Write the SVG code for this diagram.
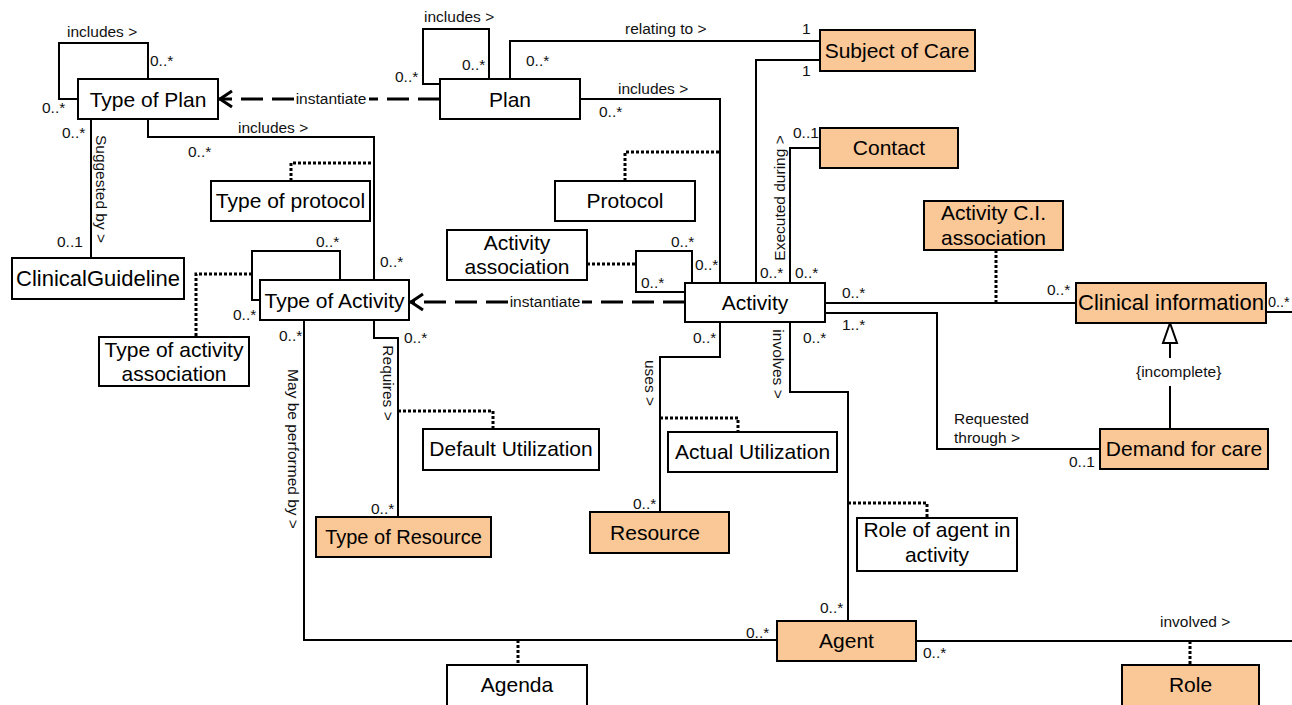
<svg xmlns="http://www.w3.org/2000/svg" width="1292" height="705" viewBox="0 0 1292 705">
<style>
.n rect{fill:#fff;stroke:#000;stroke-width:2}
.o rect{fill:#FAC796}
.t{font-family:"Liberation Sans",Arial,sans-serif;font-size:21px;text-anchor:middle;fill:#000}
.l{font-family:"Liberation Sans",Arial,sans-serif;font-size:15.5px;fill:#111}
.c{fill:none;stroke:#000;stroke-width:2}
.d{fill:none;stroke:#000;stroke-width:3;stroke-dasharray:3 2}
.ds{fill:none;stroke:#000;stroke-width:3;stroke-dasharray:22 9}
</style>
<defs>
<marker id="open" viewBox="-16 -11 18 22" markerWidth="18" markerHeight="22" refX="0" refY="0" orient="auto" markerUnits="userSpaceOnUse">
<path d="M-13,-8 L-1,0 L-13,8" fill="none" stroke="#000" stroke-width="3" stroke-dasharray="none"/>
</marker>
</defs>
<rect width="1292" height="705" fill="#fff"/>
<g id="connectors">
<path class="c" d="M78,99 H59 V43 H148 V79"/>
<path class="c" d="M91,119 V258"/>
<path class="c" d="M148,119 V137 H374 V280"/>
<path class="c" d="M440,84 H423 V29 H489 V79"/>
<path class="c" d="M510,79 V41 H820"/>
<path class="c" d="M580,99 H720 V283"/>
<path class="c" d="M820,60 H756 V283"/>
<path class="c" d="M820,148 H790 V283"/>
<path class="c" d="M260,300 H252 V251 H340 V280"/>
<path class="c" d="M685,292 H636 V251 H692 V283"/>
<path class="c" d="M825,303 H1076"/>
<path class="c" d="M825,313 H937 V449 H1100"/>
<path class="c" d="M720,322 V357 H660 V512"/>
<path class="c" d="M790,322 V392 H848 V621"/>
<path class="c" d="M374,320 V338 H398 V517"/>
<path class="c" d="M304,320 V640 H777"/>
<path class="c" d="M916,641 H1292"/>
<path class="c" d="M1266,312 H1292"/>
<path class="c" d="M1170,429 V386 M1170,358 V343"/>
<polygon points="1170,323 1163,343 1177,343" fill="#fff" stroke="#000" stroke-width="2"/>
<path class="d" d="M291,181 V163 H374"/>
<path class="d" d="M625,181 V152 H720"/>
<path class="d" d="M252,274 H196 V337"/>
<path class="d" d="M587,264 H636"/>
<path class="d" d="M996,250 V303"/>
<path class="d" d="M398,411 H493 V429"/>
<path class="d" d="M660,418 H738 V432"/>
<path class="d" d="M848,503 H927 V518"/>
<path class="d" d="M518,640 V665"/>
<path class="d" d="M1190,641 V665"/>
<path class="ds" d="M440,99 H369"/>
<path class="ds" d="M294,99 H219" marker-end="url(#open)"/>
<path class="ds" d="M685,302 H582"/>
<path class="ds" d="M508,302 H410" marker-end="url(#open)"/>
<text class="l" x="331" y="104" text-anchor="middle">instantiate</text>
<text class="l" x="545" y="307" text-anchor="middle">instantiate</text>
<text class="l" x="67" y="37">includes &gt;</text>
<text class="l" x="150" y="66">0..*</text>
<text class="l" x="42" y="113">0..*</text>
<text class="l" x="62" y="138">0..*</text>
<text class="l" x="238" y="133">includes &gt;</text>
<text class="l" x="188" y="157">0..*</text>
<text class="l" x="424" y="22">includes &gt;</text>
<text class="l" x="395" y="82">0..*</text>
<text class="l" x="462" y="70">0..*</text>
<text class="l" x="526" y="66">0..*</text>
<text class="l" x="625" y="34">relating to &gt;</text>
<text class="l" x="802" y="34">1</text>
<text class="l" x="802" y="76">1</text>
<text class="l" x="618" y="94">includes &gt;</text>
<text class="l" x="599" y="117">0..*</text>
<text class="l" x="793" y="138">0..1</text>
<text class="l" x="57" y="247">0..1</text>
<text class="l" x="316" y="247">0..*</text>
<text class="l" x="380" y="267">0..*</text>
<text class="l" x="233" y="320">0..*</text>
<text class="l" x="279" y="341">0..*</text>
<text class="l" x="404" y="343">0..*</text>
<text class="l" x="671" y="247">0..*</text>
<text class="l" x="695" y="270">0..*</text>
<text class="l" x="641" y="288">0..*</text>
<text class="l" x="760" y="278">0..*</text>
<text class="l" x="795" y="278">0..*</text>
<text class="l" x="842" y="298">0..*</text>
<text class="l" x="842" y="330">1..*</text>
<text class="l" x="693" y="343">0..*</text>
<text class="l" x="803" y="343">0..*</text>
<text class="l" x="1047" y="295">0..*</text>
<text class="l" x="1268" y="307" style="font-size:14.5px">0..*</text>
<text class="l" x="1136" y="377">{incomplete}</text>
<text class="l" x="954" y="424">Requested</text>
<text class="l" x="954" y="443">through &gt;</text>
<text class="l" x="1069" y="467">0..1</text>
<text class="l" x="371" y="514">0..*</text>
<text class="l" x="633" y="509">0..*</text>
<text class="l" x="746" y="638">0..*</text>
<text class="l" x="820" y="613">0..*</text>
<text class="l" x="923" y="658">0..*</text>
<text class="l" x="1160" y="627">involved &gt;</text>
<text class="l" transform="translate(101,189) rotate(90)" y="5" text-anchor="middle">Suggested by &gt;</text>
<text class="l" transform="translate(293,449) rotate(90)" y="5" text-anchor="middle">May be performed by &gt;</text>
<text class="l" transform="translate(388,383) rotate(90)" y="5" text-anchor="middle">Requires &gt;</text>
<text class="l" transform="translate(650,383) rotate(90)" y="5" text-anchor="middle">uses &gt;</text>
<text class="l" transform="translate(778,364) rotate(90)" y="5" text-anchor="middle">involves &gt;</text>
<text class="l" transform="translate(780,198) rotate(-90)" y="5" text-anchor="middle">Executed during &gt;</text>
</g>
<g id="type-of-plan" class="n"><rect x="78" y="79" width="140" height="40"/><text class="t" x="148" y="106.5">Type of Plan</text></g>
<g id="plan" class="n"><rect x="440" y="79" width="140" height="40"/><text class="t" x="510" y="106.5">Plan</text></g>
<g id="subject-of-care" class="n o"><rect x="820" y="30" width="155" height="41"/><text class="t" x="897" y="58">Subject of Care</text></g>
<g id="contact" class="n o"><rect x="820" y="128" width="138" height="40"/><text class="t" x="889" y="155">Contact</text></g>
<g id="type-of-protocol" class="n"><rect x="211" y="181" width="159" height="40"/><text class="t" x="290.5" y="208">Type of protocol</text></g>
<g id="protocol" class="n"><rect x="555" y="181" width="140" height="40"/><text class="t" x="625" y="208">Protocol</text></g>
<g id="clinical-guideline" class="n"><rect x="12" y="258" width="172" height="41"/><text class="t" x="98" y="286" style="font-size:22px">ClinicalGuideline</text></g>
<g id="type-of-activity" class="n"><rect x="260" y="280" width="149" height="40"/><text class="t" x="334.5" y="307.5">Type of Activity</text></g>
<g id="activity-association" class="n"><rect x="447" y="230" width="140" height="50"/><text class="t" x="517" y="250">Activity</text><text class="t" x="517" y="274">association</text></g>
<g id="activity" class="n"><rect x="685" y="283" width="140" height="39"/><text class="t" x="755" y="310">Activity</text></g>
<g id="activity-ci-association" class="n o"><rect x="924" y="201" width="139" height="49"/><text class="t" x="993.5" y="220">Activity C.I.</text><text class="t" x="993.5" y="245">association</text></g>
<g id="clinical-information" class="n o"><rect x="1076" y="283" width="190" height="40"/><text class="t" x="1171" y="310" style="font-size:22px">Clinical information</text></g>
<g id="type-of-activity-association" class="n"><rect x="99" y="337" width="150" height="49"/><text class="t" x="174" y="357">Type of activity</text><text class="t" x="174" y="381">association</text></g>
<g id="default-utilization" class="n"><rect x="423" y="429" width="176" height="41"/><text class="t" x="511" y="456">Default Utilization</text></g>
<g id="actual-utilization" class="n"><rect x="668" y="432" width="169" height="40"/><text class="t" x="752.5" y="459">Actual Utilization</text></g>
<g id="demand-for-care" class="n o"><rect x="1100" y="429" width="168" height="40"/><text class="t" x="1184" y="456">Demand for care</text></g>
<g id="type-of-resource" class="n o"><rect x="316" y="517" width="175" height="40"/><text class="t" x="403.5" y="544" style="font-size:20px">Type of Resource</text></g>
<g id="resource" class="n o"><rect x="590" y="512" width="139" height="41"/><text class="t" x="655" y="540">Resource</text></g>
<g id="role-of-agent-in-activity" class="n"><rect x="857" y="518" width="160" height="53"/><text class="t" x="937" y="537">Role of agent in</text><text class="t" x="937" y="562">activity</text></g>
<g id="agent" class="n o"><rect x="777" y="621" width="139" height="40"/><text class="t" x="846.5" y="648">Agent</text></g>
<g id="agenda" class="n"><rect x="447" y="665" width="140" height="45"/><text class="t" x="517" y="692">Agenda</text></g>
<g id="role" class="n o"><rect x="1122" y="665" width="137" height="45"/><text class="t" x="1190.5" y="692">Role</text></g>
</svg>
